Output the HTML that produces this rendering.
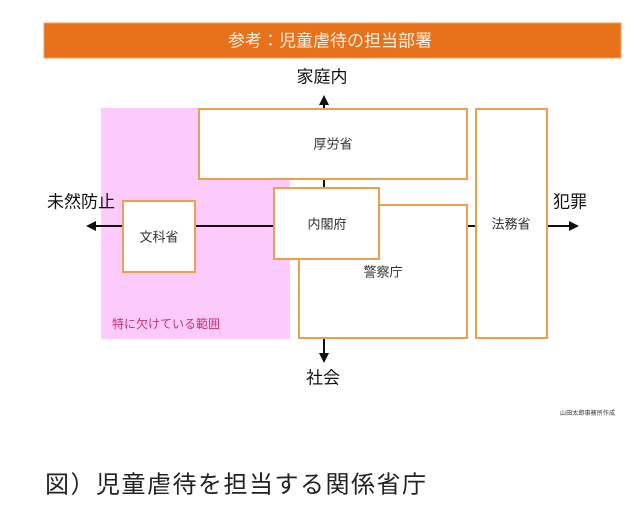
<!DOCTYPE html>
<html><head><meta charset="utf-8"><style>
html,body{margin:0;padding:0;background:#fff;}
svg{display:block;}
text{font-family:"Liberation Sans","Noto Sans CJK JP",sans-serif;}
</style></head><body>
<svg width="640" height="520" viewBox="0 0 640 520" xmlns="http://www.w3.org/2000/svg">
<rect x="0" y="0" width="640" height="520" fill="#fff"/>
<!-- header -->
<rect x="44" y="23" width="577" height="35" fill="#E8711C" stroke="#F0A060" stroke-width="1"/>
<text x="330" y="41" font-size="17" fill="#FFF1E4" text-anchor="middle" dominant-baseline="central">参考：児童虐待の担当部署</text>
<!-- pink region -->
<rect x="101" y="108" width="189" height="231" fill="#FCCBFC"/>
<!-- lines -->
<line x1="94" y1="226" x2="571" y2="226" stroke="#111" stroke-width="2"/>
<line x1="324" y1="103" x2="324" y2="355" stroke="#111" stroke-width="2"/>
<polygon points="86,226 96,221 96,231" fill="#111"/>
<polygon points="579,226 569,221 569,231" fill="#111"/>
<polygon points="324,95 319,105 329,105" fill="#111"/>
<polygon points="324,363 319,353 329,353" fill="#111"/>
<!-- boxes -->
<g fill="#fff" stroke="#E9A04F" stroke-width="2">
<rect x="199" y="109" width="268" height="70"/>
<rect x="476" y="109" width="71" height="229"/>
<rect x="299" y="205" width="168" height="133"/>
<rect x="274" y="188" width="105" height="71"/>
<rect x="123" y="201" width="72" height="71"/>
</g>
<g font-size="13" fill="#333" text-anchor="middle" dominant-baseline="central">
<text x="333" y="144">厚労省</text>
<text x="511" y="224">法務省</text>
<text x="383" y="272">警察庁</text>
<text x="327" y="224">内閣府</text>
<text x="159" y="237">文科省</text>
</g>
<g font-size="17" fill="#111" dominant-baseline="central">
<text x="322" y="77" text-anchor="middle">家庭内</text>
<text x="47" y="202">未然防止</text>
<text x="553" y="202">犯罪</text>
<text x="323" y="378" text-anchor="middle">社会</text>
</g>
<text x="112" y="324" font-size="12" fill="#D0306A" dominant-baseline="central">特に欠けている範囲</text>
<text x="560" y="414" font-size="6" fill="#333" dominant-baseline="central" textLength="55">山田太郎事務所作成</text>
<text x="45" y="485" font-size="24" fill="#222" dominant-baseline="central" letter-spacing="1.5">図）児童虐待を担当する関係省庁</text>
</svg>
</body></html>
